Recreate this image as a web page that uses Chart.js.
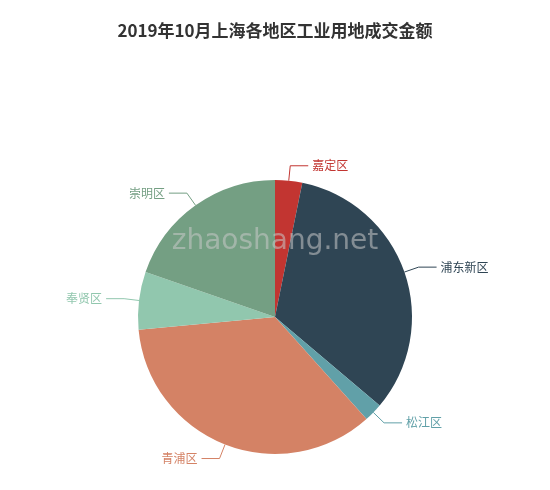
<!DOCTYPE html>
<html>
<head>
<meta charset="utf-8">
<script src="https://cdn.jsdelivr.net/npm/chart.js@4/dist/chart.umd.min.js"></script>
<style>
  body { margin: 0; background: #fff; }
  #wrap { width: 550px; height: 490px; position: relative; }
</style>
</head>
<body>
<div id="wrap"><canvas id="c" width="550" height="490"></canvas></div>
<script>
const districts = ["嘉定区", "浦东新区", "松江区", "青浦区", "奉贤区", "崇明区"];
const amounts = [3.2, 33.0, 2.2, 35.2, 6.8, 19.7];
const colors = ["#c23531", "#2f4554", "#61a0a8", "#d48265", "#91c7ae", "#749f83"];

const labelPlugin = {
  id: "labels",
  afterDraw(chart) {
    const ctx = chart.ctx;
    ctx.save();
    ctx.fillStyle = "#333";
    ctx.font = "bold 17px 'Noto Sans CJK SC', sans-serif";
    ctx.textAlign = "center";
    ctx.textBaseline = "middle";
    ctx.fillText("2019年10月上海各地区工业用地成交金额", 275, 31);

    ctx.fillStyle = "rgba(200,200,200,0.55)";
    ctx.font = "28px 'DejaVu Sans', sans-serif";
    ctx.fillText("zhaoshang.net", 275, 242);

    const meta = chart.getDatasetMeta(0);
    meta.data.forEach((arc, i) => {
      const a = (arc.startAngle + arc.endAngle) / 2;
      const r = arc.outerRadius;
      const x0 = arc.x + Math.cos(a) * r, y0 = arc.y + Math.sin(a) * r;
      const x1 = arc.x + Math.cos(a) * (r + 15), y1 = arc.y + Math.sin(a) * (r + 15);
      const right = Math.cos(a) >= 0;
      const x2 = x1 + (right ? 18 : -18);
      ctx.strokeStyle = colors[i];
      ctx.lineWidth = 1;
      ctx.beginPath();
      ctx.moveTo(x0, y0); ctx.lineTo(x1, y1); ctx.lineTo(x2, y1);
      ctx.stroke();
      ctx.fillStyle = colors[i];
      ctx.font = "12px 'Noto Sans CJK SC', sans-serif";
      ctx.textAlign = right ? "left" : "right";
      ctx.fillText(districts[i], x2 + (right ? 4 : -4), y1);
    });
    ctx.restore();
  }
};

new Chart(document.getElementById("c"), {
  type: "pie",
  data: {
    labels: districts,
    datasets: [{ data: amounts, backgroundColor: colors, borderWidth: 0 }]
  },
  options: {
    responsive: false,
    animation: false,
    layout: { padding: { top: 180, bottom: 36, left: 138, right: 138 } },
    plugins: { legend: { display: false }, tooltip: { enabled: false }, title: { display: false } }
  },
  plugins: [labelPlugin]
});
</script>
</body>
</html>
